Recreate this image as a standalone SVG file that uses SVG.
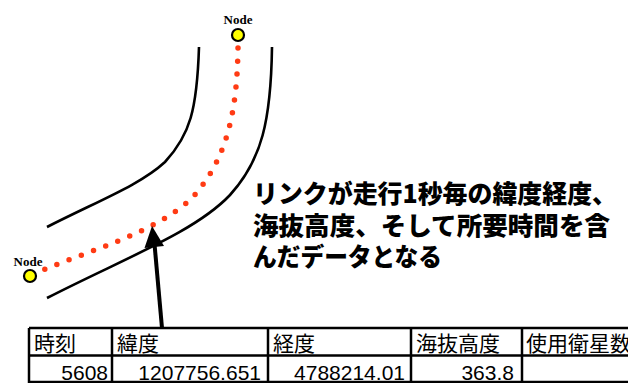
<svg xmlns="http://www.w3.org/2000/svg" width="628" height="383" viewBox="0 0 628 383">
<defs>
<style>
.road{fill:none;stroke:#000;stroke-width:2.6;stroke-linecap:butt}
.dots{fill:none;stroke:#FF3B14;stroke-width:5.5;stroke-linecap:round;stroke-dasharray:0 13}
.node{fill:#FFFF00;stroke:#000;stroke-width:2.2}
.nlabel{font-family:"Liberation Serif",serif;font-weight:bold;font-size:13px;fill:#000}
.big{font-family:"Noto Sans CJK JP",sans-serif;font-weight:900;font-size:25.5px;fill:#000}
.th{font-family:"Noto Sans CJK JP",sans-serif;font-size:21px;fill:#000}
.td{font-family:"Liberation Sans",sans-serif;font-size:21px;fill:#000;text-anchor:end}
.grid{stroke:#000;stroke-width:2.5;fill:none}
</style>
</defs>
<rect width="628" height="383" fill="#fff"/>
<g id="roads">
<path class="road" d="M199,47 C197,110 190,135 165,162 C140,185 100,200 47,227"/>
<path class="road" d="M272,47 C271,120 262,160 230,195 C195,232 125,258 47,298"/>
</g>
<g id="connectors">
<path class="dots" d="M238,48 C237,110 228,160 190,200 C150,235 90,250 38,272"/>
<line x1="162" y1="328" x2="154.5" y2="244" stroke="#000" stroke-width="4"/>
<polygon points="152,226 144.5,248 164,246" fill="#000"/>
</g>
<g id="node-top">
<circle class="node" cx="238" cy="35" r="6"/>
<text class="nlabel" x="238" y="24" text-anchor="middle">Node</text>
</g>
<g id="node-left">
<circle class="node" cx="30" cy="276" r="6"/>
<text class="nlabel" x="28" y="266" text-anchor="middle">Node</text>
</g>
<g id="caption">
<text class="big" x="253" y="203" textLength="364" lengthAdjust="spacingAndGlyphs">リンクが走行1秒毎の緯度経度、</text>
<text class="big" x="253" y="235" textLength="357" lengthAdjust="spacingAndGlyphs">海抜高度、そして所要時間を含</text>
<text class="big" x="253" y="266" textLength="189" lengthAdjust="spacingAndGlyphs">んだデータとなる</text>
</g>
<g id="table">
<line class="grid" x1="29" y1="328" x2="640" y2="328"/>
<line class="grid" x1="29" y1="355.5" x2="640" y2="355.5"/>
<line class="grid" x1="29" y1="382" x2="640" y2="382"/>
<line class="grid" x1="29" y1="328" x2="29" y2="383"/>
<line class="grid" x1="112" y1="328" x2="112" y2="383"/>
<line class="grid" x1="268" y1="328" x2="268" y2="383"/>
<line class="grid" x1="411" y1="328" x2="411" y2="383"/>
<line class="grid" x1="522" y1="328" x2="522" y2="383"/>
<text class="th" x="34" y="351">時刻</text>
<text class="th" x="117" y="351">緯度</text>
<text class="th" x="273" y="351">経度</text>
<text class="th" x="416" y="351">海抜高度</text>
<text class="th" x="526" y="351">使用衛星数</text>
<text class="td" x="108" y="380">5608</text>
<text class="td" x="261" y="380">1207756.651</text>
<text class="td" x="405" y="380">4788214.01</text>
<text class="td" x="514" y="380">363.8</text>
</g>
</svg>
